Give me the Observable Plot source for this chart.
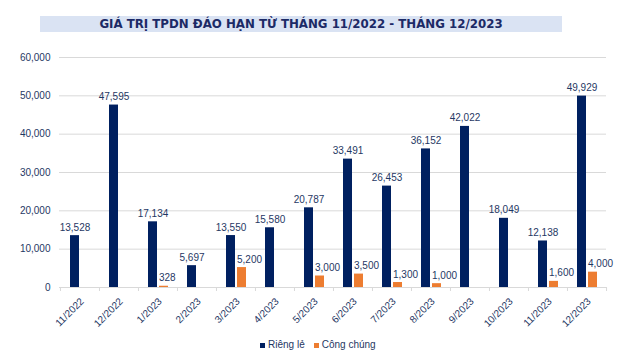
<!DOCTYPE html>
<html>
<head>
<meta charset="utf-8">
<script src="https://cdn.jsdelivr.net/npm/d3@7"></script>
<script src="https://cdn.jsdelivr.net/npm/@observablehq/plot@0.6"></script>
<style>
  html, body { margin: 0; padding: 0; background: #fff; }
  #wrap { position: relative; width: 640px; height: 363px; font-family: "Liberation Sans", Arial, sans-serif; }
  #title { position: absolute; left: 40px; top: 16px; width: 522px; height: 16px; line-height: 16px;
           background: #dae3f3; color: #1c2a66; font-family: "DejaVu Sans", Verdana, sans-serif; font-weight: bold; font-size: 11.8px; text-align: center; }
  #chart { position: absolute; left: 0; top: 40px; }
  #legend { position: absolute; left: 260px; top: 338px; line-height: 14px; font-size: 10px; color: #1f3864; display: flex; align-items: center; white-space: nowrap; }
  #legend .sw { display: inline-block; width: 5px; height: 5px; margin-right: 3px; }
  #legend .item { display: flex; align-items: center; margin-right: 9px; }
</style>
</head>
<body>
<div id="wrap">
  <div id="title">GIÁ TRỊ TPDN ĐÁO HẠN TỪ THÁNG 11/2022 - THÁNG 12/2023</div>
  <div id="chart"></div>
  <div id="legend"></div>
</div>
<script>
const categories = ["11/2022","12/2022","1/2023","2/2023","3/2023","4/2023","5/2023","6/2023","7/2023","8/2023","9/2023","10/2023","11/2023","12/2023"];
const riengLe = [13528, 47595, 17134, 5697, 13550, 15580, 20787, 33491, 26453, 36152, 42022, 18049, 12138, 49929];
const congChung = [null, null, 328, null, 5200, null, 3000, 3500, 1300, 1000, null, null, 1600, 4000];
const seriesNames = ["Riêng lẻ", "Công chúng"];
const colors = ["#002060", "#ed7d31"];
const yTicks = [0, 10000, 20000, 30000, 40000, 50000, 60000];

const rows = categories.map((c, i) => ({cat: c, rl: riengLe[i], cc: congChung[i]}));
const textColor = "#1f3864";
const fmt = d3.format(",");
const W = 640, ML = 59, MR = 34;
const step = (W - ML - MR) / categories.length;

const chart = Plot.plot({
  width: W,
  height: 295,
  marginLeft: ML,
  marginRight: MR,
  marginTop: 17,
  marginBottom: 48,
  style: {fontFamily: "'Liberation Sans', Arial, sans-serif", fontSize: "10px", background: "white", overflow: "visible"},
  x: {type: "band", domain: categories, padding: 0},
  y: {domain: [0, 60000]},
  marks: [
    Plot.gridY(yTicks, {stroke: "#d9d9d9", strokeOpacity: 1}),
    Plot.axisY(yTicks, {tickSize: 0, tickPadding: 9, tickFormat: fmt, fill: textColor, fontSize: 10, label: null}),
    Plot.ruleY([0], {stroke: "#d9d9d9"}),
    Plot.axisX({ticks: categories, tickSize: 4, tickFormat: () => "", dx: -step / 2, stroke: "#d9d9d9", label: null}),
    Plot.axisX({ticks: [categories[categories.length - 1]], tickSize: 4, tickFormat: () => "", dx: step / 2, stroke: "#d9d9d9", label: null}),
    Plot.text(categories, {x: d => d, y: () => 0, text: d => d, rotate: -45, textAnchor: "end", lineAnchor: "bottom", dx: 4.5, dy: 14.5, fill: textColor, fontSize: 10}),
    Plot.barY(rows, {x: "cat", y: "rl", fill: colors[0], insetLeft: 10, insetRight: 20}),
    Plot.barY(rows.filter(d => d.cc != null), {x: "cat", y: "cc", fill: colors[1], insetLeft: 21, insetRight: 9}),
    Plot.text(rows, {x: "cat", y: "rl", text: d => fmt(d.rl), dx: -5, dy: -5, lineAnchor: "bottom", textAnchor: "middle", fill: textColor, fontSize: 10}),
    Plot.text(rows.filter(d => d.cc != null), {x: "cat", y: "cc", text: d => fmt(d.cc), dx: 1, dy: -5, lineAnchor: "bottom", textAnchor: "start", fill: textColor, fontSize: 10})
  ]
});
document.getElementById("chart").appendChild(chart);

const legend = document.getElementById("legend");
seriesNames.forEach((name, i) => {
  const item = document.createElement("span");
  item.className = "item";
  const sw = document.createElement("span");
  sw.className = "sw";
  sw.style.background = colors[i];
  item.appendChild(sw);
  item.appendChild(document.createTextNode(name));
  legend.appendChild(item);
});
</script>
</body>
</html>
